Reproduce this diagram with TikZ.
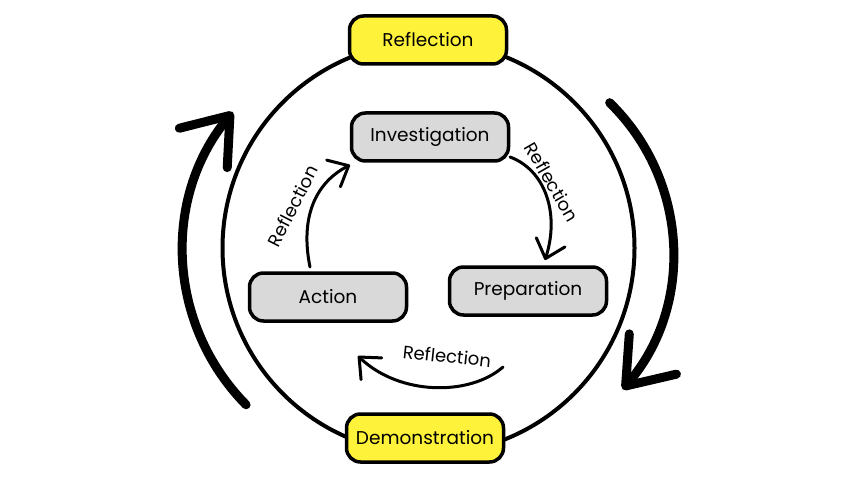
\documentclass[tikz,border=0pt]{standalone}
\usepackage{fontspec}
\setmainfont{Poppins}
\usetikzlibrary{arrows.meta}
\definecolor{hiyellow}{HTML}{FFF23A}
\definecolor{boxgray}{HTML}{D9D9D9}
\tikzset{
  stagebox/.style={draw, line width=3.5pt, rounded corners=14pt, fill=boxgray,
    minimum width=157pt, minimum height=48pt, font=\fontsize{18.5}{22}\selectfont},
  phasebox/.style={stagebox, fill=hiyellow},
  innerloop/.style={line width=3pt, line cap=round, line join=round,
    -{Straight Barb[length=17pt, width=30pt, line cap=round, line join=round]}},
  outerloop/.style={line width=9pt, line cap=round, line join=round,
    -{Straight Barb[length=42pt, width=62pt, line cap=round, line join=round]}},
  looplabel/.style={font=\fontsize{18}{21}\selectfont, inner sep=0pt}
}
\begin{document}
\begin{tikzpicture}[x=1pt, y=1pt]
        \useasboundingbox (0,0) rectangle (864,488);
        \coordinate (hub) at (428.5,240);
        \draw[line width=4pt] (hub) circle[radius=206pt];
        \node[phasebox] (reflect) at (428,448) {Reflection};
        \node[phasebox] (demo) at (425,50) {Demonstration};
        \node[stagebox] (invest) at (430,351) {Investigation};
        \node[stagebox] (action) at (328,191) {Action};
        \node[stagebox] (prep) at (528,197) {Preparation};
        \coordinate (a1) at (310,221);
        \coordinate (a2) at (350,323);
        \coordinate (b1) at (510,331);
        \coordinate (b2) at (545,228);
        \coordinate (c1) at (503,121);
        \coordinate (c2) at (358,132);
        \draw[innerloop] (a1) .. controls (300,270) and (315,305) .. (a2);
        \draw[innerloop] (b1) .. controls (545,318) and (560,275) .. (b2);
        \draw[innerloop] (c1) .. controls (470,92) and (400,92) .. (c2);
        \node[looplabel, rotate=63] (la) at (293,282) {Reflection};
        \node[looplabel, rotate=-60] (lb) at (552,306) {Reflection};
        \node[looplabel, rotate=-6] (lc) at (447,132) {Reflection};
        \draw[outerloop] (402,237) ++(224.6:219) arc[start angle=224.6, end angle=140.6, radius=219pt];
        \draw[outerloop] (463,235) ++(45.7:210) arc[start angle=45.7, end angle=-40.5, radius=210pt];
\end{tikzpicture}
\end{document}
